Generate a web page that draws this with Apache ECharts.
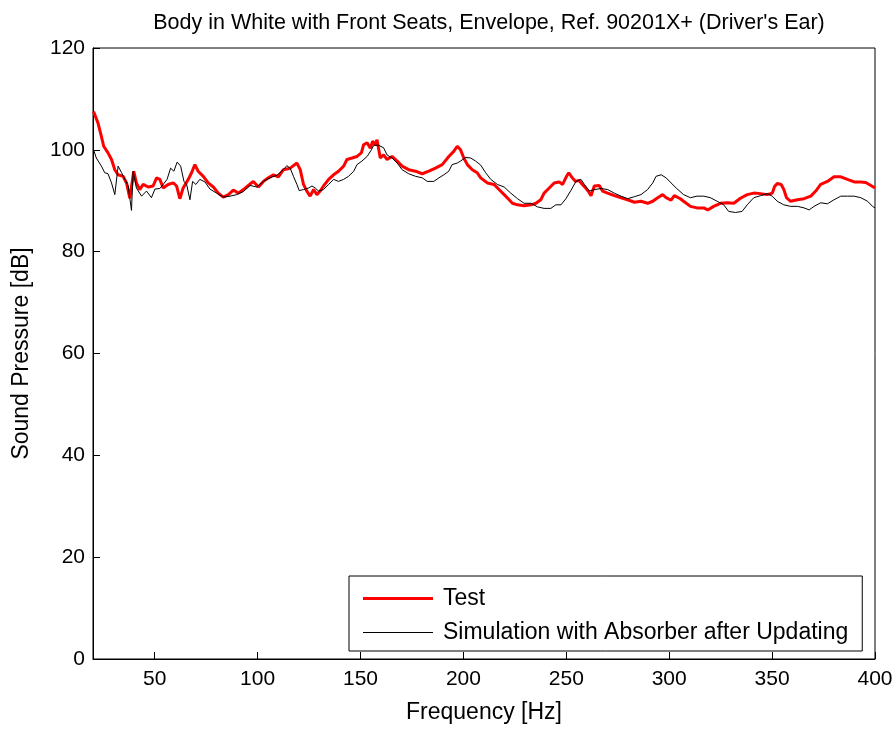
<!DOCTYPE html>
<html>
<head>
<meta charset="utf-8">
<script src="https://cdn.jsdelivr.net/npm/echarts@6/dist/echarts.min.js"></script>
<style>html,body{margin:0;padding:0;background:#fff}#c{width:896px;height:729px}</style>
</head>
<body>
<div id="c"></div>
<script>
const titleText = "Body in White with Front Seats, Envelope, Ref. 90201X+ (Driver's Ear)";
const xTicks = [50, 100, 150, 200, 250, 300, 350, 400];
const yTicks = [0, 20, 40, 60, 80, 100, 120];

const testFreq = [20.3,22.4,24.1,25.2,27.3,29,30.6,32.2,34.6,36.3,37.9,39.8,41.1,42.7,44.4,46.8,49.2,50.9,52.5,54.1,56.5,59,60.6,62.2,63.8,66.3,67.9,69.5,71.1,73.6,76,78.5,80.9,83.3,85.8,88.2,90.6,93.1,95.5,97.9,100.4,102.8,105.2,107.7,110.1,112.5,115.8,119.1,120.7,122.3,123.9,125.5,127.2,128.8,130.4,132,134.5,136.9,139.3,141.8,143.4,145.9,148.3,150.4,151.5,153.2,154.8,155.9,157.2,158,159.6,161.2,162.9,165.3,167.8,170.2,173.4,176.7,180,183.2,186.4,189.7,192.9,195.3,197,198.6,200.2,201.9,204.3,206.7,208.4,211.6,214.9,217.3,219.8,222.2,223.8,226.3,229.5,232.8,235.2,237.6,239.2,241.7,244.1,246.5,248.2,250.1,251.2,252.9,254.5,256.1,257.8,259.4,260.6,262,263.6,266,267.6,270.1,273.3,276.6,279.8,283.1,286.3,289.5,292,294.4,296.8,298.5,300.9,302.5,305.4,307,310.3,313.5,316.8,318.7,321.6,324.9,328.1,331.4,334.6,337.9,341.1,344.4,347.6,350.1,351.2,352.5,354.4,355.7,357,359,362.3,365.5,368.8,371.2,373.6,376.9,380.1,383.4,386.6,389.9,393.1,395.5,398,400];
const testDb = [107.5,105.3,102.6,100.7,99.4,98.1,96.1,95.1,94.8,93.5,90.5,95.8,93.5,92.2,93.2,92.7,92.9,94.5,94.2,92.5,93.2,93.5,92.9,90.4,92.5,94.2,95.5,97.1,95.8,94.8,93.5,92.7,91.5,90.7,91.2,92.1,91.5,92.2,93,93.8,92.7,93.8,94.5,95.1,94.7,96.1,96.4,97.4,96.1,93.2,91.9,90.9,92.2,91.2,91.9,92.9,94.2,95.1,95.8,96.8,98.1,98.4,98.7,99.4,101,101.4,100.3,101.7,101,102,98.4,99,98.1,98.7,97.8,96.8,96.1,95.8,95.3,95.8,96.4,97.1,98.7,99.7,100.7,100,98.4,97.1,96.1,95.5,94.5,93.5,93.2,92.2,91.2,90.2,89.5,89.2,89,89.2,89.5,90.2,91.5,92.5,93.5,93.7,93.2,94.8,95.5,94.5,93.8,94,93.2,92.5,91.9,91,92.9,93,91.9,91.5,91,90.6,90.2,89.7,89.9,89.5,89.9,90.6,91.2,90.6,90.1,91,90.4,89.9,88.9,88.6,88.6,88.2,88.9,89.5,89.6,89.5,90.5,91.2,91.5,91.4,91.2,91.5,92.8,93.4,93.2,92.2,90.6,89.9,90.2,90.4,90.9,91.9,93.2,93.8,94.7,94.7,94.2,93.7,93.7,93.6,93,92.5];

const simFreq = [20.3,21.6,24.1,25.7,27.3,29,30.6,32.2,33.9,35.5,37.1,38.7,39.5,41.1,43.6,46,48.4,50.1,52.5,54.1,56,57.7,59.3,60.9,62.6,64.2,65.5,67.1,68.4,70,71.9,74.4,76.8,80.1,83.3,86.6,89.8,93.1,96.3,99.6,102.8,106,109.3,112.5,114.2,115.8,117.4,119.1,120.2,122.3,124.7,126.4,128,129.6,132,134.5,136.9,139.3,141.8,144.2,146.7,148.3,150.7,153.2,155.3,156.4,158.8,161.2,162.9,165.3,167.8,170.2,173.4,176.7,180,182.4,185.6,188.1,190.5,192.9,194.5,197,198.6,201.1,203.5,205.9,208.4,210.8,213.3,216.5,219.8,223,226.3,229.5,232.8,236,239.2,242.5,244.9,247.4,249.8,252.2,254.7,257.1,258.8,261.2,263.6,266.9,270.1,273.3,276.6,279.8,283.1,286.3,289.5,292,293.6,296.1,298.5,300.9,303.4,307,310.3,313.5,316.8,320,323.3,326.5,328.9,332.2,335.4,337.9,341.1,344.4,347.6,350.1,352.5,355.7,359,362.3,365.5,368,370.4,373.6,376.9,380.1,383.4,386.6,389.9,393.1,396.4,398.8,400];
const simDb = [100,98.4,96.8,95.5,95.3,93.5,91.2,96.8,95.5,94.2,92.9,88.1,95.8,92.5,90.9,91.9,90.6,92.3,92.4,93.2,94.2,96.4,95.8,97.6,96.8,93.8,93.2,90.2,93.8,93.2,94.2,93.7,92.3,91.5,90.7,90.9,91.2,91.8,93,92.7,93.8,94.5,95,96.1,96.9,96.4,94.8,93.2,92,92.2,92.5,92.9,92.5,91.9,92.2,93.2,94.2,93.8,94.2,94.8,95.8,97.1,97.8,98.7,100,100.9,100.9,100.4,99,98.4,97.4,96.1,95.3,94.8,94.5,93.8,93.8,94.5,95.1,95.8,97.1,97.4,97.8,98.5,98.4,97.8,97,95.5,94.2,93.2,92.7,91.5,90.4,89.5,89.5,88.8,88.5,88.5,89.2,89.2,90.4,92,93.8,94.2,93.2,91.9,92.2,92.4,92.2,91.5,90.9,90.4,90.8,91.2,92.2,93.5,94.8,95.1,94.5,93.5,92.5,91.2,90.6,90.9,90.9,90.6,89.9,89.2,87.9,87.7,87.9,89.2,90.6,91,91.4,90.9,89.9,89.2,88.9,88.9,88.6,88.2,88.9,89.6,89.4,90.2,90.9,90.9,90.9,90.6,89.9,88.9,88.6];

const zip = (a, b) => a.map((v, i) => [v, b[i]]);
const FONT = "'Liberation Sans', Arial, Helvetica, sans-serif";
// legend icons: horizontal bands centred in a 70x20 box (degenerate subpaths fix the bounding box)
const thickIcon = 'path://M0,0L70,0Z M0,20L70,20Z M0,8.5H70V11.5H0Z';
const thinIcon = 'path://M0,0L70,0Z M0,20L70,20Z M0,9.5H70V10.5H0Z';

const chart = echarts.init(document.getElementById('c'), null, {renderer: 'canvas'});
chart.setOption({
  animation: false,
  backgroundColor: '#fff',
  title: {
    text: titleText,
    left: 484, top: 7, textAlign: 'center',
    textStyle: {fontFamily: FONT, fontSize: 21.5, fontWeight: 'normal', color: '#000'}
  },
  grid: {left: 93, right: 21, top: 48, bottom: 68, show: true, borderColor: '#000', borderWidth: 1, backgroundColor: 'transparent'},
  legend: {
    orient: 'vertical', left: 349, top: 576,
    backgroundColor: '#fff', borderColor: '#000', borderWidth: 1,
    padding: [11, 14, 7, 14], itemGap: 11, itemWidth: 70, itemHeight: 20,
    textStyle: {fontFamily: FONT, fontSize: 23, color: '#000', padding: [0, 0, 0, 5]},
    data: [
      {name: 'Test', icon: thickIcon, itemStyle: {color: '#ff0000'}},
      {name: 'Simulation with Absorber after Updating', icon: thinIcon, itemStyle: {color: '#000'}}
    ]
  },
  xAxis: {
    type: 'value', min: 20, max: 400,
    name: 'Frequency [Hz]', nameLocation: 'middle', nameGap: 42,
    nameTextStyle: {fontFamily: FONT, fontSize: 23, color: '#000'},
    axisLine: {lineStyle: {color: '#000', width: 1}},
    axisTick: {inside: true, length: 7, lineStyle: {color: '#000'}, customValues: xTicks},
    axisLabel: {fontFamily: FONT, fontSize: 21, color: '#000', margin: 10, customValues: xTicks},
    splitLine: {show: false}
  },
  yAxis: {
    type: 'value', min: 0, max: 120, interval: 20,
    name: 'Sound Pressure [dB]', nameLocation: 'middle', nameGap: 60,
    nameTextStyle: {fontFamily: FONT, fontSize: 23, color: '#000'},
    axisLine: {show: true, lineStyle: {color: '#000', width: 1}},
    axisTick: {show: true, inside: true, length: 7, lineStyle: {color: '#000'}},
    axisLabel: {fontFamily: FONT, fontSize: 21, color: '#000', margin: 8},
    splitLine: {show: false}
  },
  series: [
    {name: 'Test', type: 'line', data: zip(testFreq, testDb), symbol: 'none', lineStyle: {color: '#ff0000', width: 3}, itemStyle: {color: '#ff0000'}},
    {name: 'Simulation with Absorber after Updating', type: 'line', data: zip(simFreq, simDb), symbol: 'none', lineStyle: {color: '#000', width: 1}, itemStyle: {color: '#000'}}
  ]
});
</script>
</body>
</html>
